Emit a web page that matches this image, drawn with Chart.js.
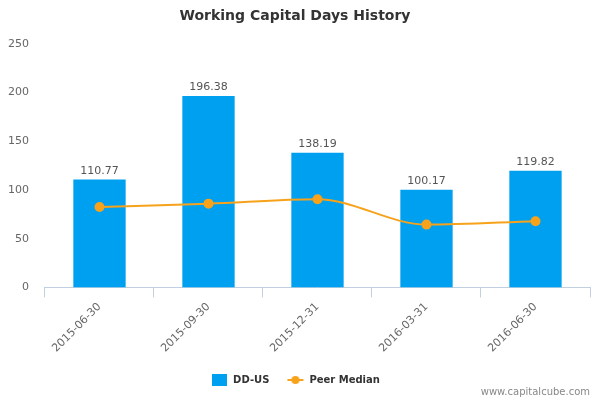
<!DOCTYPE html>
<html><head><meta charset="utf-8">
<script src="https://cdn.jsdelivr.net/npm/chart.js@4/dist/chart.umd.min.js"></script>
<style>html,body{margin:0;padding:0;background:#fff}#wrap{width:600px;height:400px;position:relative}</style>
</head><body><div id="wrap"><canvas id="c"></canvas></div>
<script>
const categories = ['2015-06-30','2015-09-30','2015-12-31','2016-03-31','2016-06-30'];
const companyValues = [110.77, 196.38, 138.19, 100.17, 119.82];
const peerMedian = [82.5, 86, 90.5, 64.5, 68];
const yTicks = [0, 50, 100, 150, 200, 250];

const FONT = '"DejaVu Sans", Verdana, sans-serif';

function lineIcon(){
  const c = document.createElement('canvas'); c.width = 18; c.height = 10;
  const g = c.getContext('2d');
  g.strokeStyle = '#f7a21b'; g.lineWidth = 2;
  g.beginPath(); g.moveTo(1,5); g.lineTo(17,5); g.stroke();
  g.fillStyle = '#f7a21b'; g.beginPath(); g.arc(9,5,4,0,Math.PI*2); g.fill();
  return c;
}
function boxIcon(){
  const c = document.createElement('canvas'); c.width = 15; c.height = 12;
  const g = c.getContext('2d'); g.fillStyle = '#00a0f0'; g.fillRect(0,0,15,12);
  return c;
}

const barLabels = {
  id:'barLabels',
  afterDatasetsDraw(chart){
    const ctx = chart.ctx; const meta = chart.getDatasetMeta(1);
    ctx.save(); ctx.font = '11px ' + FONT; ctx.fillStyle = '#555'; ctx.textAlign='center'; ctx.textBaseline='bottom';
    meta.data.forEach((b,i)=>{ ctx.fillText(companyValues[i].toFixed(2), b.x, b.y - 3); });
    ctx.restore();
  }
};
const watermark = {
  id:'watermark',
  afterDraw(chart){
    const ctx = chart.ctx; ctx.save(); ctx.font = '10px ' + FONT; ctx.fillStyle = '#888';
    ctx.textAlign='right'; ctx.textBaseline='middle'; ctx.fillText('www.capitalcube.com', 590, 392); ctx.restore();
  }
};

new Chart(document.getElementById('c'), {
  data: {
    labels: categories,
    datasets: [
      { type:'line', label:'Peer Median', data: peerMedian, borderColor:'#f7a21b', backgroundColor:'#f7a21b',
        borderWidth:2, pointRadius:4, pointHoverRadius:4, cubicInterpolationMode:'monotone', order:0 },
      { type:'bar', label:'DD-US', data: companyValues, backgroundColor:'#00a0f0', barPercentage:0.48, categoryPercentage:1, order:1 }
    ]
  },
  options: {
    responsive:true, maintainAspectRatio:false, animation:false,
    layout:{ padding:{ top:8, left:0, right:10, bottom:5 } },
    plugins:{
      title:{ display:true, text:'Working Capital Days History', color:'#333', font:{ family:FONT, size:14, weight:'bold' }, padding:{ top:0, bottom:19 } },
      legend:{ position:'bottom',
        labels:{ font:{ family:FONT, size:10, weight:'bold' }, color:'#333', usePointStyle:true, pointStyleWidth:18, boxWidth:16, padding:17,
          generateLabels(chart){
            return [
              { text:'DD-US', pointStyle: boxIcon(), fillStyle:'#00a0f0', strokeStyle:'#00a0f0', lineWidth:0, datasetIndex:1, fontColor:'#333' },
              { text:'Peer Median', pointStyle: lineIcon(), fillStyle:'#f7a21b', strokeStyle:'#f7a21b', lineWidth:0, datasetIndex:0, fontColor:'#333' }
            ];
          }
        }
      },
      tooltip:{ enabled:false }
    },
    scales:{
      x:{ offset:true,
        grid:{ offset:true, drawOnChartArea:false, drawTicks:true, tickLength:10, color:'#c0d0e0' },
        border:{ color:'#c0d0e0' },
        ticks:{ font:{ family:FONT, size:11 }, color:'#666', minRotation:45, maxRotation:45 }
      },
      y:{ min:0, max:250,
        afterBuildTicks(s){ s.ticks = yTicks.map(v=>({value:v})); },
        grid:{ display:false }, border:{ display:false },
        ticks:{ font:{ family:FONT, size:11 }, color:'#666', padding:8 }
      }
    }
  },
  plugins:[barLabels, watermark]
});
</script></body></html>
